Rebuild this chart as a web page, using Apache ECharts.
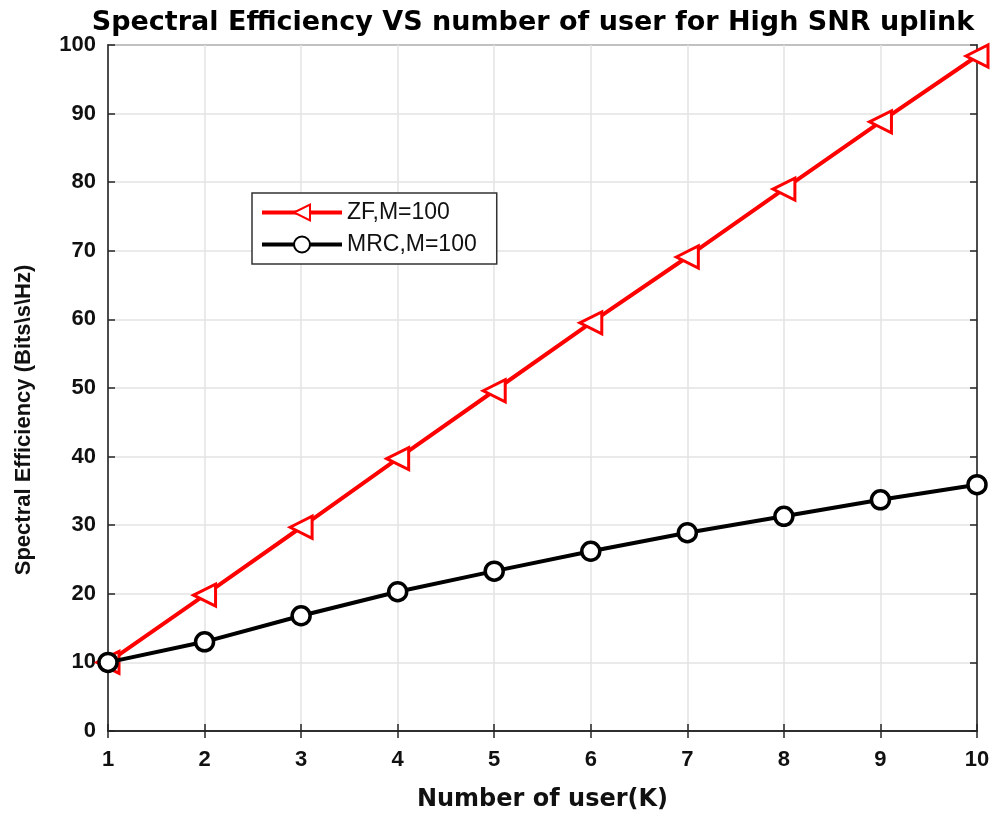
<!DOCTYPE html>
<html>
<head>
<meta charset="utf-8">
<script src="https://cdn.jsdelivr.net/npm/echarts@6/dist/echarts.min.js"></script>
<style>html,body{margin:0;padding:0;background:#fff}#c{width:994px;height:817px}</style>
</head>
<body>
<div id="c"></div>
<script>
const users = [1, 2, 3, 4, 5, 6, 7, 8, 9, 10];
const zfValues = [10, 19.8, 29.7, 39.7, 49.6, 59.5, 69.1, 79.0, 88.8, 98.4];
const mrcValues = [10, 13.0, 16.8, 20.3, 23.3, 26.2, 28.9, 31.3, 33.7, 35.9];
const seriesNames = ['ZF,M=100', 'MRC,M=100'];
const titleText = 'Spectral Efficiency VS number of user for High SNR uplink';
const xName = 'Number of user(K)';
const yName = 'Spectral Efficiency (Bits\\s\\Hz)';

const chart = echarts.init(document.getElementById('c'));
const font = 'Liberation Sans, Arial, sans-serif';
const wide = 'DejaVu Sans, Liberation Sans, sans-serif';
const axisCommon = {
  axisLine: {show: true, lineStyle: {color: '#262626', width: 1.5}},
  axisTick: {show: true, inside: true, length: 7, lineStyle: {color: '#262626', width: 1.5}},
};
chart.setOption({
  animation: false,
  title: {
    text: titleText, left: 528, top: 4, textAlign: 'center',
    textStyle: {fontFamily: wide, fontWeight: 'bold', fontSize: 27, color: '#000'}
  },
  grid: {left: 108, right: 17, top: 45, bottom: 86, show: true, borderColor: '#262626', borderWidth: 1.5},
  legend: {
    left: 252, top: 193, width: 244, orient: 'vertical',
    padding: [8, 20, 8, 8], itemGap: 9,
    borderColor: '#333', borderWidth: 1.5, backgroundColor: '#fff',
    itemWidth: 80, itemHeight: 20,
    lineStyle: {width: 4},
    textStyle: {fontFamily: font, fontSize: 23, color: '#111'},
    data: seriesNames
  },
  graphic: [{
    type: 'text', x: 24, y: 420, rotation: Math.PI / 2,
    style: {
      text: yName, fontFamily: font, fontWeight: 'bold', fontSize: 22, fill: '#111',
      textAlign: 'center', textVerticalAlign: 'middle'
    }
  }],
  xAxis: [{
    type: 'value', min: 1, max: 10, interval: 1,
    name: xName, nameLocation: 'middle', nameGap: 57,
    nameTextStyle: {fontFamily: wide, fontWeight: 'bold', fontSize: 24, color: '#111'},
    axisLabel: {fontFamily: font, fontWeight: 'bold', fontSize: 22, color: '#111', margin: 18},
    splitLine: {show: true, lineStyle: {color: '#e3e3e3', width: 1.5}},
    ...axisCommon
  }, {
    type: 'value', min: 1, max: 10, interval: 1, position: 'top',
    axisLabel: {show: false}, splitLine: {show: false}, ...axisCommon
  }],
  yAxis: [{
    type: 'value', min: 0, max: 100, interval: 10,
    axisLabel: {fontFamily: font, fontWeight: 'bold', fontSize: 22, color: '#111', margin: 12},
    splitLine: {show: true, lineStyle: {color: '#e3e3e3', width: 1.5}},
    ...axisCommon
  }, {
    type: 'value', min: 0, max: 100, interval: 10, position: 'right',
    axisLabel: {show: false}, splitLine: {show: false}, ...axisCommon
  }],
  series: [{
    name: seriesNames[0], type: 'line',
    data: users.map((u, i) => [u, zfValues[i]]),
    symbol: 'triangle', symbolRotate: 90, symbolSize: 22, showAllSymbol: true,
    lineStyle: {color: '#ff0000', width: 4},
    itemStyle: {color: '#ffffff', borderColor: '#ff0000', borderWidth: 3},
    z: 3
  }, {
    name: seriesNames[1], type: 'line',
    data: users.map((u, i) => [u, mrcValues[i]]),
    symbol: 'circle', symbolSize: 18, showAllSymbol: true,
    lineStyle: {color: '#000000', width: 4},
    itemStyle: {color: '#ffffff', borderColor: '#000000', borderWidth: 3.5},
    z: 4
  }]
});
</script>
</body>
</html>
